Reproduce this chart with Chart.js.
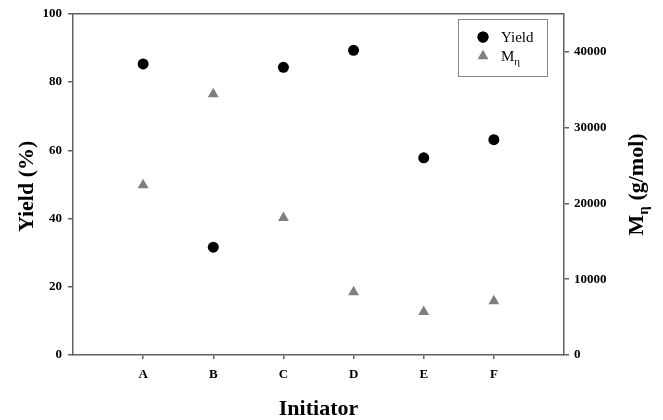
<!DOCTYPE html>
<html>
<head>
<meta charset="utf-8">
<script src="https://cdn.jsdelivr.net/npm/chart.js@4/dist/chart.umd.min.js"></script>
<style>
  html, body { margin: 0; padding: 0; background: #fff; }
  #wrap { width: 663px; height: 420px; position: relative; }
</style>
</head>
<body>
<div id="wrap"><canvas id="c" width="663" height="420"></canvas></div>
<script>
const categories = ['A', 'B', 'C', 'D', 'E', 'F'];
const yieldValues = [85.3, 31.6, 84.3, 89.3, 57.8, 63.1];
const mnValues = [22400, 34400, 18100, 8300, 5700, 7100];
const yieldTicks = [0, 20, 40, 60, 80, 100];
const mnTicks = [0, 10000, 20000, 30000, 40000];

const FONT = '"Liberation Serif", "Times New Roman", serif';
const AXIS = '#606060';

const titlesPlugin = {
  id: 'titles',
  afterDraw(chart) {
    const ctx = chart.ctx;
    const ca = chart.chartArea;
    ctx.save();
    // top frame line
    ctx.strokeStyle = AXIS;
    ctx.lineWidth = 1.5;
    ctx.beginPath();
    ctx.moveTo(ca.left, ca.top);
    ctx.lineTo(ca.right, ca.top);
    ctx.stroke();

    ctx.fillStyle = '#000';
    // x title
    ctx.font = 'bold 22px ' + FONT;
    ctx.textAlign = 'center';
    ctx.textBaseline = 'alphabetic';
    ctx.fillText('Initiator', (ca.left + ca.right) / 2, 415);

    // left title
    ctx.save();
    ctx.translate(33, (ca.top + ca.bottom) / 2 + 2);
    ctx.rotate(-Math.PI / 2);
    ctx.textAlign = 'center';
    ctx.fillText('Yield (%)', 0, 0);
    ctx.restore();

    // right title with subscript
    ctx.save();
    ctx.translate(643, (ca.top + ca.bottom) / 2);
    ctx.rotate(-Math.PI / 2);
    ctx.textAlign = 'left';
    const big = 'bold 22px ' + FONT, small = 'bold 15px ' + FONT;
    ctx.font = big; const wM = ctx.measureText('M').width;
    ctx.font = small; const wS = ctx.measureText('η').width;
    ctx.font = big; const wR = ctx.measureText(' (g/mol)').width;
    let x0 = -(wM + wS + wR) / 2;
    ctx.font = big; ctx.fillText('M', x0, 0);
    ctx.font = small; ctx.fillText('η', x0 + wM, 5);
    ctx.font = big; ctx.fillText(' (g/mol)', x0 + wM + wS, 0);
    ctx.restore();

    // legend
    ctx.strokeStyle = '#888';
    ctx.lineWidth = 1;
    ctx.strokeRect(458.5, 19.5, 89, 57);
    const ds = chart.data.datasets;
    Chart.helpers.drawPoint(ctx, {pointStyle: 'circle', radius: ds[0].pointRadius, rotation: 0, borderWidth: 0}, 483, 37);
    ctx.fillStyle = ds[0].backgroundColor;
    ctx.beginPath(); ctx.arc(483, 37, ds[0].pointRadius, 0, Math.PI * 2); ctx.fill();
    ctx.fillStyle = ds[1].backgroundColor;
    ctx.strokeStyle = ds[1].backgroundColor;
    Chart.helpers.drawPoint(ctx, {pointStyle: 'triangle', radius: ds[1].pointRadius, rotation: 0, borderWidth: 0}, 483, 56);
    ctx.fillStyle = '#000';
    ctx.textAlign = 'left';
    ctx.font = '15px ' + FONT;
    ctx.fillText('Yield', 501, 42);
    ctx.fillText('M', 501, 61);
    const wm = ctx.measureText('M').width;
    ctx.font = '11px ' + FONT;
    ctx.fillText('η', 501 + wm, 65);
    ctx.restore();
  }
};

const chart = new Chart(document.getElementById('c'), {
  type: 'scatter',
  data: {
    datasets: [
      {
        label: 'Yield',
        data: yieldValues.map((v, i) => ({x: i + 1, y: v})),
        yAxisID: 'y',
        pointStyle: 'circle',
        pointRadius: 5.5,
        pointHoverRadius: 5.5,
        backgroundColor: '#000000',
        borderColor: '#000000',
        borderWidth: 0
      },
      {
        label: 'Mη',
        data: mnValues.map((v, i) => ({x: i + 1, y: v})),
        yAxisID: 'y1',
        pointStyle: 'triangle',
        pointRadius: 6.3,
        pointHoverRadius: 6.3,
        backgroundColor: '#808080',
        borderColor: '#808080',
        borderWidth: 0
      }
    ]
  },
  options: {
    responsive: false,
    animation: false,
    layout: { padding: { top: 13, left: 0, right: 0, bottom: 0 } },
    plugins: { legend: { display: false }, tooltip: { enabled: false } },
    scales: {
      x: {
        type: 'linear',
        min: 0, max: 7,
        afterBuildTicks: s => { s.ticks = categories.map((c, i) => ({value: i + 1})); },
        afterFit: s => { s.height = 65; },
        ticks: {
          callback: v => categories[v - 1] || '',
          font: { family: FONT, size: 13, weight: 'bold' },
          color: '#000',
          padding: 8,
          maxRotation: 0
        },
        grid: { drawOnChartArea: false, drawTicks: true, tickLength: 4, color: AXIS, lineWidth: 1.5 },
        border: { display: true, color: AXIS, width: 1.5 }
      },
      y: {
        position: 'left',
        min: 0, max: 100,
        afterBuildTicks: s => { s.ticks = yieldTicks.map(v => ({value: v})); },
        afterFit: s => { s.width = 73; },
        ticks: {
          font: { family: FONT, size: 13, weight: 'bold' },
          color: '#000',
          padding: 6
        },
        grid: { drawOnChartArea: false, drawTicks: true, tickLength: 5, color: AXIS, lineWidth: 1.5 },
        border: { display: true, color: AXIS, width: 1.5 }
      },
      y1: {
        position: 'right',
        min: 0, max: 45000,
        afterBuildTicks: s => { s.ticks = mnTicks.map(v => ({value: v})); },
        afterFit: s => { s.width = 99; },
        ticks: {
          font: { family: FONT, size: 13, weight: 'bold' },
          color: '#000',
          padding: 5,
          callback: v => String(v)
        },
        grid: { drawOnChartArea: false, drawTicks: true, tickLength: 5, color: AXIS, lineWidth: 1.5 },
        border: { display: true, color: AXIS, width: 1.5 }
      }
    }
  },
  plugins: [titlesPlugin]
});
</script>
</body>
</html>
